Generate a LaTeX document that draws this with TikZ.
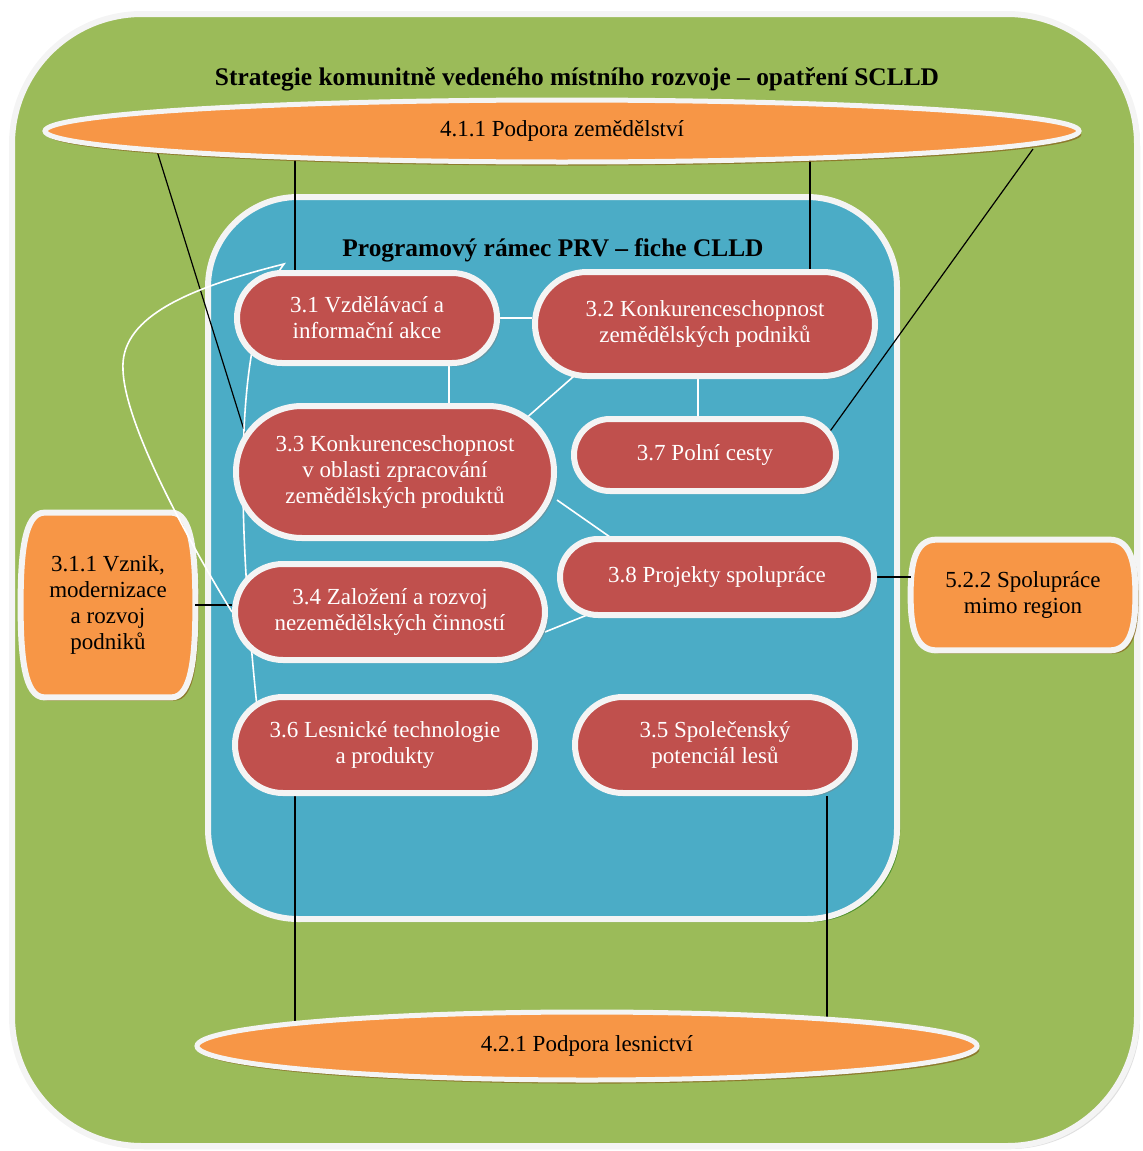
\documentclass[tikz,border=0pt]{standalone}
\usepackage{fontspec}
\setmainfont{Liberation Serif}
\usetikzlibrary{shapes.geometric,shapes.misc,shadows,calc}
\definecolor{zelena}{HTML}{9BBB59}
\definecolor{modra}{HTML}{4BACC6}
\definecolor{cervena}{HTML}{C0504D}
\definecolor{oranzova}{HTML}{F79646}
\definecolor{okraj}{HTML}{F4F4F4}
\definecolor{stin}{HTML}{8A6B22}
\pgfdeclarelayer{box}
\pgfdeclarelayer{tvar}
\pgfdeclarelayer{link}
\pgfsetlayers{box,tvar,link,main}
\tikzset{
  fiche/.style={rounded rectangle, draw=okraj, line width=3pt, fill=cervena, text=white,
    align=center, inner sep=0pt, font=\fontsize{11.5}{13}\selectfont,
    drop shadow={shadow xshift=1.6pt, shadow yshift=-1.6pt, opacity=0.45}},
  opatreni/.style={rectangle, text=black, align=center, inner sep=0pt,
    font=\fontsize{11.5}{13}\selectfont},
  opatreniTvar/.style={draw=okraj, line width=3pt, fill=oranzova,
    drop shadow={shadow xshift=1.6pt, shadow yshift=-1.6pt, fill=stin, opacity=0.8}},
  elipsa/.style={ellipse, draw=okraj, line width=2.5pt, fill=oranzova, inner sep=0pt,
    font=\fontsize{11.5}{13}\selectfont,
    drop shadow={shadow xshift=1.2pt, shadow yshift=-1.8pt, fill=stin, opacity=0.8}},
  nadpis/.style={font=\bfseries\fontsize{12.7}{15}\selectfont},
  cara/.style={black, line width=0.6pt},
  bila/.style={white, line width=0.8pt},
}
% obrys s vypouklymi boky: #1 uzel, #2 sirka zaobleni
\newcommand{\tvar}[2]{%
  \begin{pgfonlayer}{tvar}
  \path[opatreniTvar] ($(#1.north west)+(#2,0)$) -- ($(#1.north east)+(-#2,0)$)
    .. controls ($(#1.north east)+(-0.15*#2,0)$) and ($(#1.east)!0.55!(#1.north east)$) .. (#1.east)
    .. controls ($(#1.east)!0.55!(#1.south east)$) and ($(#1.south east)+(-0.15*#2,0)$) .. ($(#1.south east)+(-#2,0)$)
    -- ($(#1.south west)+(#2,0)$)
    .. controls ($(#1.south west)+(0.15*#2,0)$) and ($(#1.west)!0.55!(#1.south west)$) .. (#1.west)
    .. controls ($(#1.west)!0.55!(#1.north west)$) and ($(#1.north west)+(0.15*#2,0)$) .. cycle;
  \end{pgfonlayer}}

\begin{document}
\begin{tikzpicture}[x=0.5pt,y=-0.5pt]
\useasboundingbox (0,0) rectangle (1142,1151);
% ramecky
\begin{pgfonlayer}{box}
\path[fill=zelena, draw=okraj, line width=3pt, rounded corners=65pt,
  drop shadow={shadow xshift=1.5pt, shadow yshift=-1.5pt, opacity=0.25}]
  (12,14) rectangle (1137,1146);
\path[fill=modra, draw=okraj, line width=3pt, rounded corners=45pt,
  drop shadow={shadow xshift=1.5pt, shadow yshift=-1.5pt, fill=black!60!green, opacity=0.5}]
  (208,197) rectangle (897,919);
\end{pgfonlayer}
\node[nadpis] (tStrategie) at (577,79) {Strategie komunitně vedeného místního rozvoje – opatření SCLLD};
\node[nadpis] (tPRV) at (553,250) {Programový rámec PRV – fiche CLLD};
% opatreni SCLLD
\node[elipsa, minimum width=517pt, minimum height=31pt] (elTop) at (562,131) {4.1.1 Podpora zemědělství};
\node[elipsa, minimum width=390pt, minimum height=34pt] (elBot) at (587,1046) {4.2.1 Podpora lesnictví};
\node[opatreni, minimum width=87pt, minimum height=92pt] (n311) at (108,605) {3.1.1 Vznik,\\modernizace\\a rozvoj\\podniků};
\node[opatreni, minimum width=112pt, minimum height=55pt] (n522) at (1023,595) {5.2.2 Spolupráce\\mimo region};
\tvar{n311}{24}
\tvar{n522}{26}
% fiche
\node[fiche, minimum width=130pt, minimum height=45pt] (n31) at (367,318) {3.1 Vzdělávací a\\informační akce};
\node[fiche, minimum width=170pt, minimum height=52pt] (n32) at (705,324) {3.2 Konkurenceschopnost\\zemědělských podniků};
\node[fiche, minimum width=159pt, minimum height=66pt] (n33) at (395,472) {3.3 Konkurenceschopnost\\v oblasti zpracování\\zemědělských produktů};
\node[fiche, minimum width=131pt, minimum height=36pt] (n37) at (705,455) {3.7 Polní cesty};
\node[fiche, minimum width=157pt, minimum height=38pt] (n38) at (717,577) {3.8 Projekty spolupráce};
\node[fiche, minimum width=155pt, minimum height=48pt] (n34) at (390,612) {3.4 Založení a rozvoj\\nezemědělských činností};
\node[fiche, minimum width=150pt, minimum height=48pt] (n36) at (385,745) {3.6 Lesnické technologie\\a produkty};
\node[fiche, minimum width=140pt, minimum height=48pt] (n35) at (715,745) {3.5 Společenský\\potenciál lesů};
% vazby
\coordinate (k31) at ($(n31.north)+(-72,0)$);
\coordinate (k32) at ($(n32.north)+(105,0)$);
\coordinate (k36) at ($(n36.south)+(-90,0)$);
\coordinate (k35) at ($(n35.south)+(112,0)$);
\coordinate (k31s) at ($(n31.south)+(82,0)$);
\coordinate (k32s) at ($(n32.south)+(-7,0)$);
\coordinate (uzel) at (284,264);
\begin{pgfonlayer}{link}
\draw[cara] (k31) -- (k31 |- elTop);
\draw[cara] (k32) -- (k32 |- elTop);
\draw[cara] (k36) -- (k36 |- elBot);
\draw[cara] (k35) -- (k35 |- elBot);
\draw[cara] ($(elTop)+(-405,20)$) -- ($(n33)+(-146,-26)$);
\draw[cara] ($(elTop)+(471,18)$) -- ($(n37)+(118,-14)$);
\draw[cara] (n311.east) -- (n311.east -| n34.west);
\draw[cara] (n38.east) -- (n38.east -| n522.west);
\draw[bila] (n31.east) -- (n31.east -| n32.west);
\draw[bila] (k31s) -- (k31s |- n33);
\draw[bila] ($(n32)+(-115,38)$) -- ($(n33)+(112,-37)$);
\draw[bila] (k32s) -- (k32s |- n37);
\draw[bila] ($(n33)+(162,28)$) -- ($(n38)+(-107,-40)$);
\draw[bila] ($(n34)+(155,20)$) -- ($(n38)+(-125,36)$);
\draw[bila] ($(n36)+(-128,-38)$) .. controls (242,560) and (226,340) .. (uzel)
  .. controls (180,290) and (120,320) .. (123,370)
  .. controls (125,430) and (200,560) .. (n34.west);
\end{pgfonlayer}
\end{tikzpicture}
\end{document}
